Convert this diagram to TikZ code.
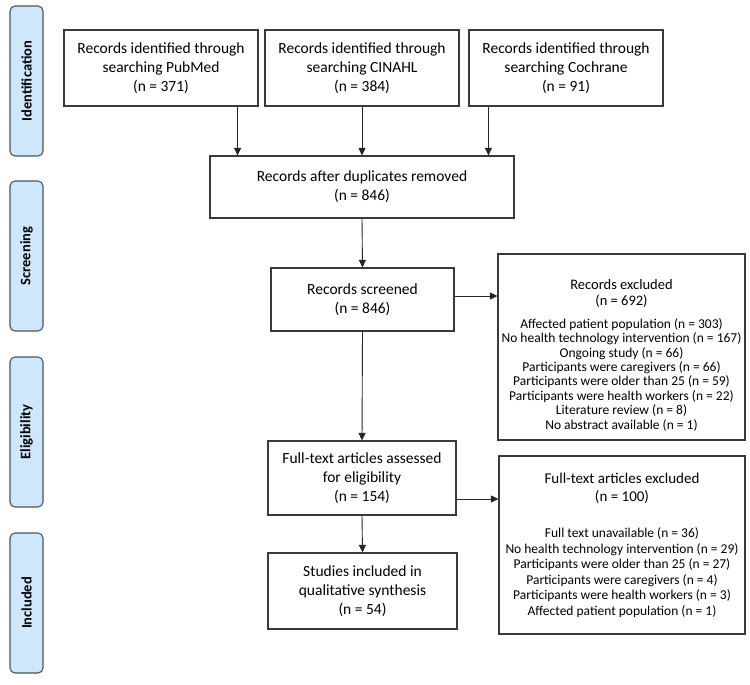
\documentclass[tikz,border=0pt]{standalone}
\usepackage{fontspec}
\setmainfont{Carlito}
\usetikzlibrary{arrows.meta,calc}
\definecolor{lblfill}{HTML}{CFE7FB}
\definecolor{lbldraw}{HTML}{4A545E}
\definecolor{boxdraw}{HTML}{3A3A3A}
\tikzset{
  box/.style={draw=boxdraw, line width=1.1pt, fill=white, align=center, inner sep=2pt,
    font=\fontsize{15.5}{19}\selectfont},
  exbox/.style={draw=boxdraw, line width=1.1pt, fill=white, align=flush center, inner sep=2pt},
  phase/.style={draw=lbldraw, line width=1.1pt, fill=lblfill, rounded corners=5pt,
    rotate=90, minimum height=33pt, font=\fontsize{14.5}{16}\selectfont\bfseries},
  arr/.style={draw=black!85, line width=0.9pt, -{Triangle[width=7pt,length=7.5pt]}}
}
\begin{document}
\begin{tikzpicture}[x=1pt,y=-1pt]
\useasboundingbox (0,0) rectangle (750,685);
% phase labels
\node[phase, minimum width=150pt] (pid) at (26.5,81) {Identification};
\node[phase, minimum width=150pt] (psc) at (26.5,256) {Screening};
\node[phase, minimum width=150pt] (pel) at (26.5,432) {Eligibility};
\node[phase, minimum width=140pt] (pin) at (26.5,603) {Included};
% boxes
\node[box, minimum width=194pt, minimum height=76pt] (pub) at (161,68)
  {Records identified through\\searching PubMed\\(n = 371)};
\node[box, minimum width=194pt, minimum height=76pt] (cin) at (362,68)
  {Records identified through\\searching CINAHL\\(n = 384)};
\node[box, minimum width=194pt, minimum height=76pt] (coc) at (566,68)
  {Records identified through\\searching Cochrane\\(n = 91)};
\node[box, minimum width=304pt, minimum height=62pt] (dup) at (362,187)
  {Records after duplicates removed\\(n = 846)};
\node[box, minimum width=183pt, minimum height=63pt] (scr) at (362.5,299.5)
  {Records screened\\(n = 846)};
\node[exbox, minimum width=247pt, minimum height=186pt, text width=243pt] (rex) at (621.5,347)
  {{\fontsize{14.5}{16}\selectfont\rule{0pt}{27pt}Records excluded\\(n = 692)\par}\vspace{8pt}
   {\fontsize{13.5}{14.4}\selectfont
   Affected patient population (n = 303)\\
   No health technology intervention (n = 167)\\
   Ongoing study (n = 66)\\
   Participants were caregivers (n = 66)\\
   Participants were older than 25 (n = 59)\\
   Participants were health workers (n = 22)\\
   Literature review (n = 8)\\
   No abstract available (n = 1)\par}\vspace{-12pt}};
\node[box, minimum width=188pt, minimum height=74pt] (ft) at (362,478)
  {Full-text articles assessed\\for eligibility\\(n = 154)};
\node[exbox, minimum width=246pt, minimum height=178pt, text width=242pt] (fex) at (622,545)
  {{\fontsize{15}{18}\selectfont Full-text articles excluded\\(n = 100)\par}\vspace{21pt}
   {\fontsize{13.5}{15.5}\selectfont
   Full text unavailable (n = 36)\\
   No health technology intervention (n = 29)\\
   Participants were older than 25 (n = 27)\\
   Participants were caregivers (n = 4)\\
   Participants were health workers (n = 3)\\
   Affected patient population (n = 1)\par}\vspace{8pt}};
\node[box, minimum width=189pt, minimum height=76pt] (inc) at (362.5,591)
  {Studies included in\\qualitative synthesis\\(n = 54)};
% connectors
\draw[arr] ([xshift=-21pt]pub.south east) -- ([xshift=-21pt]pub.south east |- dup.north);
\draw[arr] (cin.south) -- (dup.north);
\draw[arr] ([xshift=20pt]coc.south west) -- ([xshift=20pt]coc.south west |- dup.north);
\draw[arr] (dup.south) -- (scr.north);
\draw[arr] ([yshift=3.5pt]scr.east) -- ([yshift=3.5pt]scr.east -| rex.west);
\draw[arr] (scr.south) -- (ft.north);
\draw[arr] ([yshift=-21pt]ft.east) -- ([yshift=-21pt]ft.east -| fex.west);
\draw[arr] (ft.south) -- (inc.north);
\end{tikzpicture}
\end{document}
